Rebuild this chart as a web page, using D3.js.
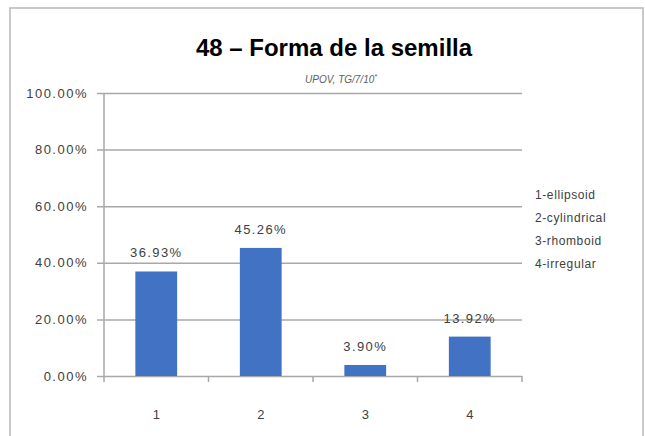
<!DOCTYPE html>
<html>
<head>
<meta charset="utf-8">
<script src="https://cdn.jsdelivr.net/npm/d3@7"></script>
<style>
  body { margin: 0; background: #fff; }
  text { font-family: "Liberation Sans", Arial, sans-serif; }
</style>
</head>
<body>
<svg id="chart" width="645" height="436"></svg>
<script>
// data
const categories = ['1', '2', '3', '4'];
const shares = [0.3693, 0.4526, 0.0390, 0.1392];
const yTicks = [0, 0.2, 0.4, 0.6, 0.8, 1.0];
const legendLines = ['1-ellipsoid', '2-cylindrical', '3-rhomboid', '4-irregular'];

const svg = d3.select('#chart');
const plot = { left: 104, right: 522, top: 93, bottom: 376 };

// outer frame of the chart area
svg.append('rect')
    .attr('x', 10).attr('y', 8)
    .attr('width', 633).attr('height', 440)
    .attr('fill', 'none')
    .attr('stroke', '#b8b8b8')
    .attr('stroke-width', 1.5);

let x = d3.scaleBand()
    .domain(categories)
    .range([plot.left, plot.right])
    .paddingInner(0.6)
    .paddingOuter(0.3);

let y = d3.scaleLinear()
    .domain([0, 1])
    .range([plot.bottom, plot.top]);

// gridlines + y labels
let yAxis = d3.axisLeft(y)
    .tickValues(yTicks)
    .tickFormat(d => d3.format('.2%')(d))
    .tickSize(-(plot.right - plot.left) - 7)
    .tickPadding(9);

let gy = svg.append('g')
    .attr('transform', 'translate(' + (plot.left - 7) + ',0)')
    .call(yAxis);
gy.select('.domain').remove();
gy.selectAll('.tick line')
    .attr('stroke', '#a8a8a8')
    .attr('stroke-width', 1.5);
gy.selectAll('.tick text')
    .attr('fill', '#404040')
    .style('font-size', '13px')
    .style('letter-spacing', '1.5px');

// vertical axis line
svg.append('line')
    .attr('x1', plot.left).attr('x2', plot.left)
    .attr('y1', plot.top).attr('y2', plot.bottom)
    .attr('stroke', '#a8a8a8')
    .attr('stroke-width', 1.5);

// category ticks on the baseline
let boundaries = categories.map((c, i) => plot.left + i * (plot.right - plot.left) / categories.length)
    .concat([plot.right]);
svg.append('g')
    .selectAll('line')
    .data(boundaries)
    .enter()
    .append('line')
    .attr('x1', d => d).attr('x2', d => d)
    .attr('y1', plot.bottom).attr('y2', plot.bottom + 6)
    .attr('stroke', '#a8a8a8')
    .attr('stroke-width', 1.5);

// bars
svg.append('g')
    .selectAll('rect')
    .data(shares)
    .enter()
    .append('rect')
    .attr('x', (d, i) => x(categories[i]))
    .attr('y', d => y(d))
    .attr('width', x.bandwidth())
    .attr('height', d => y(0) - y(d))
    .attr('fill', '#4272c4');

// value labels
svg.append('g')
    .selectAll('text')
    .data(shares)
    .enter()
    .append('text')
    .attr('x', (d, i) => x(categories[i]) + x.bandwidth() / 2)
    .attr('y', d => y(d) - 14)
    .attr('text-anchor', 'middle')
    .attr('fill', '#404040')
    .style('font-size', '13px')
    .style('letter-spacing', '1.4px')
    .text(d => d3.format('.2%')(d));

// category labels
svg.append('g')
    .selectAll('text')
    .data(categories)
    .enter()
    .append('text')
    .attr('x', d => x(d) + x.bandwidth() / 2)
    .attr('y', 419)
    .attr('text-anchor', 'middle')
    .attr('fill', '#404040')
    .style('font-size', '13px')
    .text(d => d);

// title
svg.append('text')
    .attr('x', 334).attr('y', 56)
    .attr('text-anchor', 'middle')
    .attr('fill', '#000')
    .style('font-size', '24px')
    .style('font-weight', 'bold')
    .text('48 \u2013 Forma de la semilla');

let sub = svg.append('text')
    .attr('x', 341).attr('y', 83)
    .attr('text-anchor', 'middle')
    .attr('fill', '#606060')
    .style('font-size', '10px')
    .style('font-style', 'italic');
sub.append('tspan').text('UPOV, TG/7/10');
sub.append('tspan').attr('dy', -4).style('font-size', '7px').text('*');

// legend text
svg.append('g')
    .selectAll('text')
    .data(legendLines)
    .enter()
    .append('text')
    .attr('x', 535)
    .attr('y', (d, i) => 199 + i * 23)
    .attr('fill', '#404040')
    .style('font-size', '12px')
    .style('letter-spacing', '0.6px')
    .text(d => d);
</script>
</body>
</html>
